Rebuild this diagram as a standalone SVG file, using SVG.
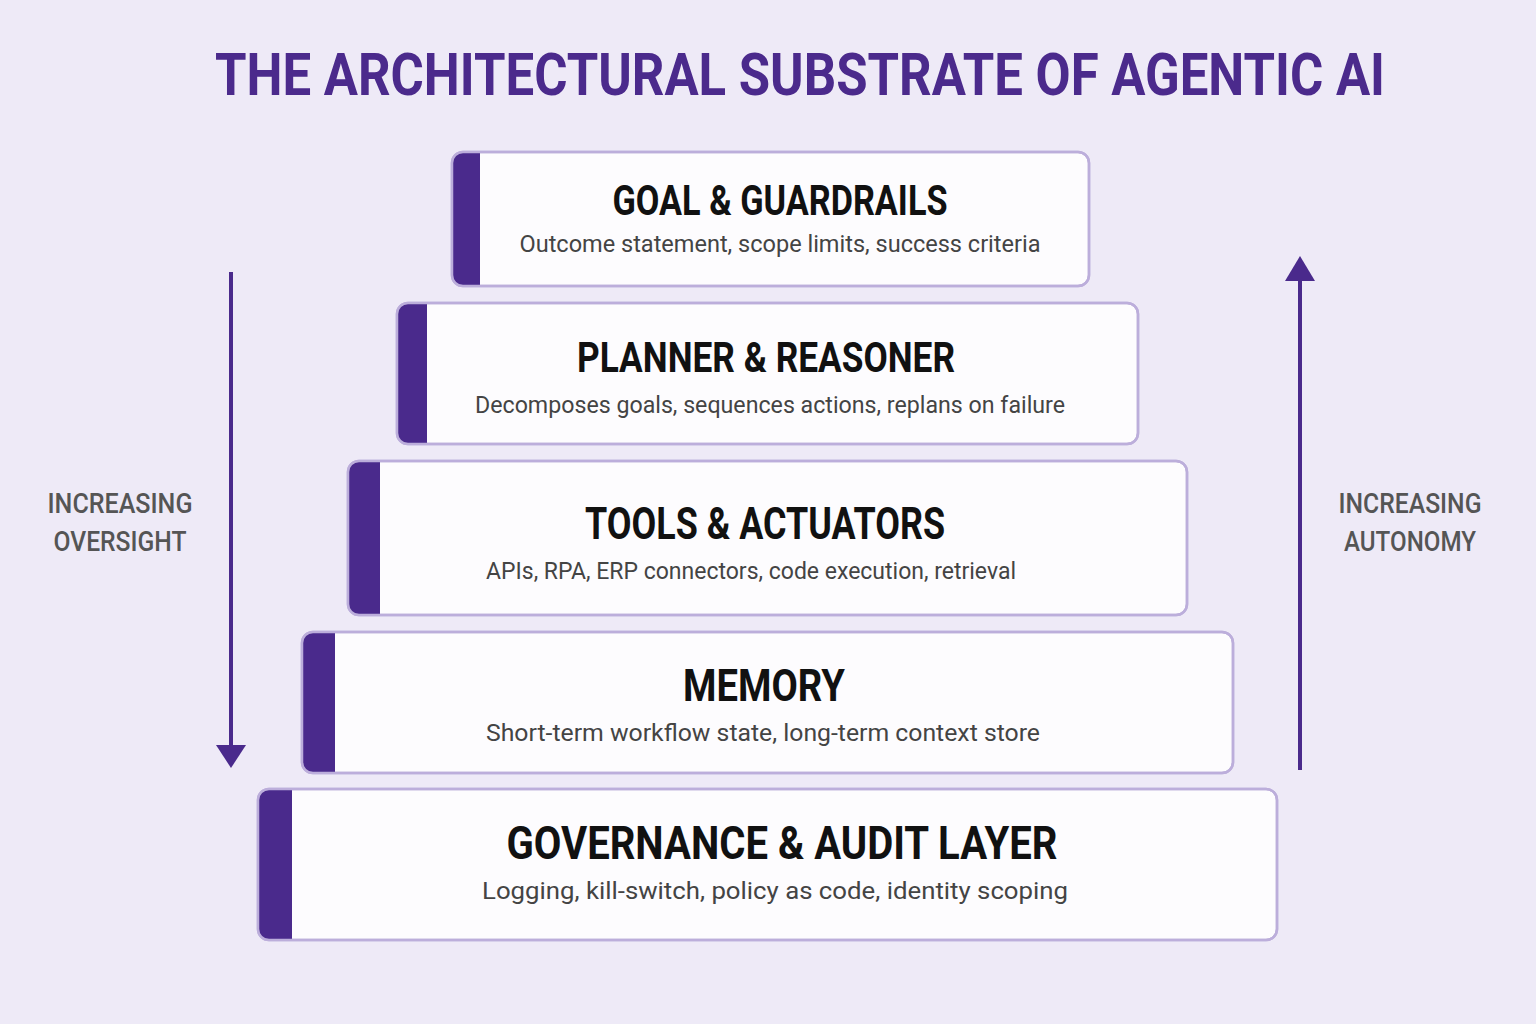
<svg xmlns="http://www.w3.org/2000/svg" width="1536" height="1024" viewBox="0 0 1536 1024">
<defs>
<style>
.card{fill:#fdfcfe;stroke:#bcaedb;stroke-width:2.5}
.bar{fill:#4a2a8c}
.title{font-family:Roboto,"Liberation Sans",sans-serif;font-weight:700;fill:#4b2a8c;text-anchor:middle}
.h{font-family:Roboto,"Liberation Sans",sans-serif;font-weight:700;fill:#111;text-anchor:middle}
.s{font-family:Roboto,"Liberation Sans",sans-serif;font-weight:400;fill:#444;text-anchor:middle;font-size:24px}
.side{font-family:Roboto,"Liberation Sans",sans-serif;font-weight:500;fill:#555;text-anchor:middle;font-size:28px}
.arr{stroke:#4a2a8c;stroke-width:4;fill:none}
</style>
<clipPath id="c1"><rect x="452" y="152" width="637" height="134" rx="11"/></clipPath>
<clipPath id="c2"><rect x="397" y="303" width="741" height="141" rx="11"/></clipPath>
<clipPath id="c3"><rect x="348" y="461" width="839" height="154" rx="11"/></clipPath>
<clipPath id="c4"><rect x="302" y="632" width="931" height="141" rx="11"/></clipPath>
<clipPath id="c5"><rect x="258" y="789" width="1019" height="151" rx="11"/></clipPath>
</defs>
<rect width="1536" height="1024" fill="#eeeaf7"/>
<text class="title" x="800" y="95" font-size="60" textLength="1170" lengthAdjust="spacingAndGlyphs">THE ARCHITECTURAL SUBSTRATE OF AGENTIC AI</text>

<g id="goal">
<rect class="card" x="452" y="152" width="637" height="134" rx="11"/>
<rect class="bar" x="452" y="152" width="28" height="134" clip-path="url(#c1)"/>
<rect x="452" y="152" width="637" height="134" rx="11" fill="none" stroke="#bcaedb" stroke-width="2.5"/>
<text class="h" x="780" y="215" font-size="42" textLength="335" lengthAdjust="spacingAndGlyphs">GOAL &amp; GUARDRAILS</text>
<text class="s" x="780" y="252" textLength="521" lengthAdjust="spacingAndGlyphs">Outcome statement, scope limits, success criteria</text>
</g>

<g id="planner">
<rect class="card" x="397" y="303" width="741" height="141" rx="11"/>
<rect class="bar" x="397" y="303" width="30" height="141" clip-path="url(#c2)"/>
<rect x="397" y="303" width="741" height="141" rx="11" fill="none" stroke="#bcaedb" stroke-width="2.5"/>
<text class="h" x="766" y="372" font-size="42" textLength="378" lengthAdjust="spacingAndGlyphs">PLANNER &amp; REASONER</text>
<text class="s" x="770" y="413" textLength="590" lengthAdjust="spacingAndGlyphs">Decomposes goals, sequences actions, replans on failure</text>
</g>

<g id="tools">
<rect class="card" x="348" y="461" width="839" height="154" rx="11"/>
<rect class="bar" x="348" y="461" width="32" height="154" clip-path="url(#c3)"/>
<rect x="348" y="461" width="839" height="154" rx="11" fill="none" stroke="#bcaedb" stroke-width="2.5"/>
<text class="h" x="765" y="539" font-size="44" textLength="360" lengthAdjust="spacingAndGlyphs">TOOLS &amp; ACTUATORS</text>
<text class="s" x="751" y="579" textLength="530" lengthAdjust="spacingAndGlyphs">APIs, RPA, ERP connectors, code execution, retrieval</text>
</g>

<g id="memory">
<rect class="card" x="302" y="632" width="931" height="141" rx="11"/>
<rect class="bar" x="302" y="632" width="33" height="141" clip-path="url(#c4)"/>
<rect x="302" y="632" width="931" height="141" rx="11" fill="none" stroke="#bcaedb" stroke-width="2.5"/>
<text class="h" x="764" y="701" font-size="44" textLength="162" lengthAdjust="spacingAndGlyphs">MEMORY</text>
<text class="s" x="763" y="741" textLength="554" lengthAdjust="spacingAndGlyphs">Short-term workflow state, long-term context store</text>
</g>

<g id="governance">
<rect class="card" x="258" y="789" width="1019" height="151" rx="11"/>
<rect class="bar" x="258" y="789" width="34" height="151" clip-path="url(#c5)"/>
<rect x="258" y="789" width="1019" height="151" rx="11" fill="none" stroke="#bcaedb" stroke-width="2.5"/>
<text class="h" x="782" y="859" font-size="46" textLength="551" lengthAdjust="spacingAndGlyphs">GOVERNANCE &amp; AUDIT LAYER</text>
<text class="s" x="775" y="899" textLength="586" lengthAdjust="spacingAndGlyphs">Logging, kill-switch, policy as code, identity scoping</text>
</g>

<g id="connectors">
<line class="arr" x1="231" y1="272" x2="231" y2="748"/>
<polygon points="216,745 246,745 231,768" fill="#4a2a8c"/>
<line class="arr" x1="1300" y1="770" x2="1300" y2="278"/>
<polygon points="1285,281 1315,281 1300,256" fill="#4a2a8c"/>
</g>

<g id="labels">
<text class="side" x="120" y="513" textLength="145" lengthAdjust="spacingAndGlyphs">INCREASING</text>
<text class="side" x="120" y="551" textLength="133" lengthAdjust="spacingAndGlyphs">OVERSIGHT</text>
<text class="side" x="1410" y="513" textLength="143" lengthAdjust="spacingAndGlyphs">INCREASING</text>
<text class="side" x="1410" y="551" textLength="132" lengthAdjust="spacingAndGlyphs">AUTONOMY</text>
</g>
</svg>
